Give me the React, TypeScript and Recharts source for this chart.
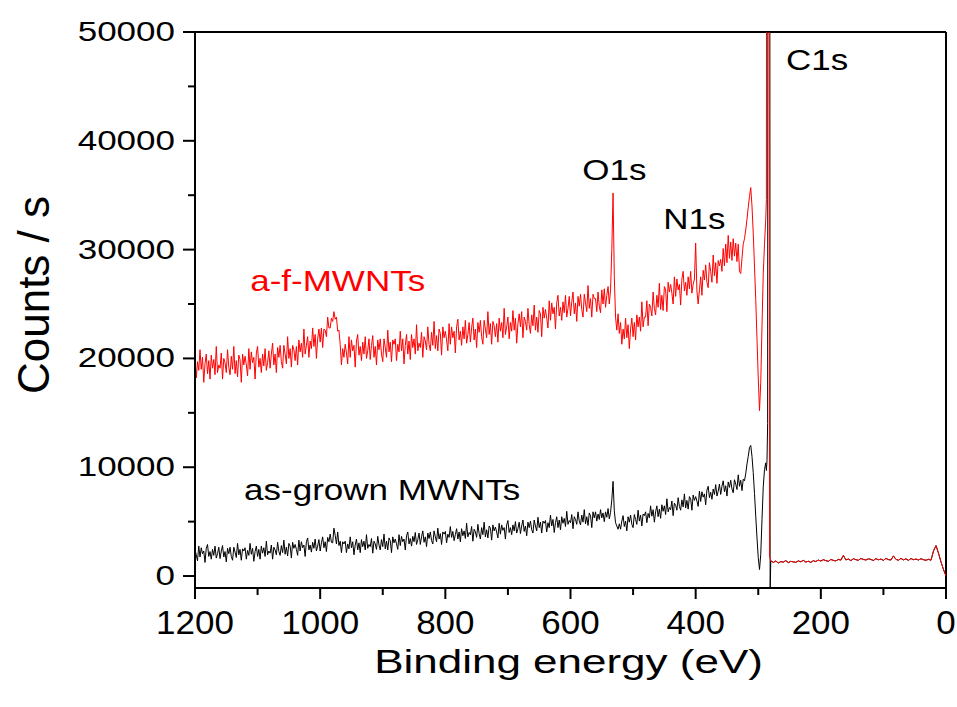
import { LineChart, Line, XAxis, YAxis, ReferenceLine, ReferenceDot } from "recharts";

// binding energy grid (eV), 2 eV steps above C1s
const mainEnergy = [
  1200, 1198, 1196, 1194, 1192, 1190, 1188, 1186, 1184, 1182, 1180, 1178, 1176, 1174, 1172, 1170, 1168, 1166, 1164, 1162,
  1160, 1158, 1156, 1154, 1152, 1150, 1148, 1146, 1144, 1142, 1140, 1138, 1136, 1134, 1132, 1130, 1128, 1126, 1124, 1122,
  1120, 1118, 1116, 1114, 1112, 1110, 1108, 1106, 1104, 1102, 1100, 1098, 1096, 1094, 1092, 1090, 1088, 1086, 1084, 1082,
  1080, 1078, 1076, 1074, 1072, 1070, 1068, 1066, 1064, 1062, 1060, 1058, 1056, 1054, 1052, 1050, 1048, 1046, 1044, 1042,
  1040, 1038, 1036, 1034, 1032, 1030, 1028, 1026, 1024, 1022, 1020, 1018, 1016, 1014, 1012, 1010, 1008, 1006, 1004, 1002,
  1000, 998, 996, 994, 992, 990, 988, 986, 984, 982, 980, 978, 976, 974, 972, 970, 968, 966, 964, 962,
  960, 958, 956, 954, 952, 950, 948, 946, 944, 942, 940, 938, 936, 934, 932, 930, 928, 926, 924, 922,
  920, 918, 916, 914, 912, 910, 908, 906, 904, 902, 900, 898, 896, 894, 892, 890, 888, 886, 884, 882,
  880, 878, 876, 874, 872, 870, 868, 866, 864, 862, 860, 858, 856, 854, 852, 850, 848, 846, 844, 842,
  840, 838, 836, 834, 832, 830, 828, 826, 824, 822, 820, 818, 816, 814, 812, 810, 808, 806, 804, 802,
  800, 798, 796, 794, 792, 790, 788, 786, 784, 782, 780, 778, 776, 774, 772, 770, 768, 766, 764, 762,
  760, 758, 756, 754, 752, 750, 748, 746, 744, 742, 740, 738, 736, 734, 732, 730, 728, 726, 724, 722,
  720, 718, 716, 714, 712, 710, 708, 706, 704, 702, 700, 698, 696, 694, 692, 690, 688, 686, 684, 682,
  680, 678, 676, 674, 672, 670, 668, 666, 664, 662, 660, 658, 656, 654, 652, 650, 648, 646, 644, 642,
  640, 638, 636, 634, 632, 630, 628, 626, 624, 622, 620, 618, 616, 614, 612, 610, 608, 606, 604, 602,
  600, 598, 596, 594, 592, 590, 588, 586, 584, 582, 580, 578, 576, 574, 572, 570, 568, 566, 564, 562,
  560, 558, 556, 554, 552, 550, 548, 546, 544, 542, 540, 538, 536, 534, 532, 530, 528, 526, 524, 522,
  520, 518, 516, 514, 512, 510, 508, 506, 504, 502, 500, 498, 496, 494, 492, 490, 488, 486, 484, 482,
  480, 478, 476, 474, 472, 470, 468, 466, 464, 462, 460, 458, 456, 454, 452, 450, 448, 446, 444, 442,
  440, 438, 436, 434, 432, 430, 428, 426, 424, 422, 420, 418, 416, 414, 412, 410, 408, 406, 404, 402,
  400, 398, 396, 394, 392, 390, 388, 386, 384, 382, 380, 378, 376, 374, 372, 370, 368, 366, 364, 362,
  360, 358, 356, 354, 352, 350, 348, 346, 344, 342, 340, 338, 336, 334, 332, 330, 328, 326, 324, 322,
];

// finer steps around the C1s region
const c1sEnergy = [
  320, 318, 316, 314, 312, 310, 308, 306, 304, 302,
  300, 298, 296, 294, 292, 290, 288, 287, 286, 285,
  284, 283, 282, 281,
];

const lowEnergy = [
  280, 276, 272, 268, 264, 260, 256, 252, 248, 244,
  240, 236, 232, 228, 224, 220, 216, 212, 208, 204,
  200, 196, 192, 188, 184, 180, 176, 172, 168, 164,
  160, 156, 152, 148, 144, 140, 136, 132, 128, 124,
  120, 116, 112, 108, 104, 100, 96, 92, 88, 84,
  80, 76, 72, 68, 64, 60, 56, 52, 48, 44,
  40, 36, 32, 28, 24, 20, 16, 12, 8, 4,
  0,
];

// counts/s, a-f-MWNTs (red)
const afMain = [
  20200, 18200, 19700, 18900, 20800, 19000, 20100, 17800, 19500, 20400, 18600, 19800, 18100, 20300, 19100, 19900, 18500, 21100, 18700, 19400,
  19100, 20500, 18100, 20000, 19600, 18700, 20800, 19200, 18500, 20200, 19000, 21100, 18600, 19800, 18300, 20300, 19900, 17800, 20400, 19400,
  20200, 19400, 18400, 20900, 19000, 20600, 19600, 20100, 18100, 20500, 21100, 19200, 20000, 18700, 20400, 19300, 20900, 18900, 19600, 20700,
  19100, 20400, 21400, 19400, 20400, 18700, 21000, 20100, 21200, 19700, 19100, 21200, 20400, 19500, 22000, 20000, 20900, 19200, 21200, 20800,
  19800, 21100, 19400, 21700, 20600, 21400, 20100, 22700, 20400, 21200, 22000, 20100, 21600, 20900, 22800, 21100, 22200, 20000, 21800, 22700,
  21500, 22800, 21000, 22700, 22600, 22000, 23800, 22800, 22800, 23700, 23400, 24300, 23600, 23800, 22500, 22600, 21300, 19400, 20900, 20100,
  21300, 20500, 19500, 22000, 20100, 21700, 20700, 21200, 19200, 21600, 22200, 20300, 21100, 19800, 21500, 20400, 22000, 20000, 20700, 21800,
  19900, 21200, 22100, 20100, 21100, 19400, 21700, 20800, 21800, 20400, 19700, 21800, 21000, 20100, 22600, 20600, 21500, 19700, 21700, 21300,
  21800, 19800, 21300, 20600, 22500, 20700, 21800, 19500, 21200, 22200, 20400, 21600, 19900, 22200, 21000, 21800, 20400, 23100, 20700, 21400,
  21000, 22400, 20100, 22000, 21600, 20800, 22900, 21300, 20700, 22400, 21200, 23400, 20900, 22100, 20700, 22700, 22300, 20300, 22900, 21900,
  22500, 21700, 20700, 23200, 21300, 22900, 21900, 22500, 20500, 22900, 23600, 21700, 22500, 21200, 22900, 21800, 23500, 21400, 22200, 23300,
  21500, 22800, 23700, 21700, 22700, 21000, 23300, 22400, 23500, 22000, 21300, 23500, 22700, 21900, 24300, 22200, 23200, 21300, 23400, 23000,
  22000, 23200, 21500, 23700, 22500, 23300, 21900, 24600, 22200, 22900, 23800, 21800, 23300, 22500, 24400, 22600, 23700, 21400, 23200, 24100,
  22900, 24300, 21900, 23800, 23400, 22600, 24600, 23100, 22300, 24000, 23000, 24900, 22600, 23800, 22400, 24400, 24100, 22000, 24700, 23700,
  24500, 23700, 22800, 25300, 23500, 25100, 24100, 24700, 22700, 25100, 25800, 23900, 24700, 23500, 25200, 24200, 25800, 23800, 24600, 25700,
  23900, 25200, 26100, 24100, 25100, 23400, 25700, 24800, 25900, 24500, 23800, 25900, 25100, 24300, 26700, 24600, 25500, 23800, 25900, 25500,
  25500, 24300, 26100, 24800, 24200, 26300, 25000, 26400, 24700, 25800, 26600, 25000, 26300, 30000, 35200, 27500, 23800, 22600, 24100, 22300,
  23300, 21300, 22700, 21800, 23700, 21900, 23100, 20900, 22700, 23700, 22000, 23300, 21700, 24000, 22900, 23800, 22500, 25200, 22900, 23800,
  23800, 25300, 23000, 25000, 24700, 23900, 26100, 24600, 24000, 25800, 24700, 26900, 24500, 25800, 24400, 26600, 26300, 24300, 27000, 26100,
  26800, 26000, 25000, 27500, 25700, 27300, 26300, 26800, 24900, 27300, 28000, 26200, 27000, 25800, 27500, 26400, 28000, 26000, 26800, 27300,
  30600, 26200, 25000, 26300, 27500, 25800, 28100, 27200, 28600, 27000, 26500, 28800, 28000, 27000, 29500, 27600, 28800, 26900, 29000, 28500,
  29100, 28000, 30100, 28500, 30500, 28800, 31300, 29200, 30700, 29000, 31000, 29400, 30600, 28900, 30500, 28000, 27800, 29200, 30500, 31000,
];
const afC1s = [
  31800, 32800, 33900, 34900, 35700, 34000, 31500, 28500, 25400, 21800,
  18200, 15200, 17800, 23000, 27800, 30500, 32800, 34600, 120000, 120000,
  120000, 120000, 1800, 1600,
];

// counts/s, as-grown MWNTs (black)
const agMain = [
  2400, 1950, 1400, 2750, 1750, 2600, 2050, 2300, 1250, 2550, 2900, 1800, 2250, 1550, 2450, 1900, 2750, 1650, 2050, 2650,
  1600, 2300, 2800, 1750, 2250, 1300, 2550, 2050, 2650, 1800, 1450, 2650, 2200, 1700, 3000, 1950, 2450, 1450, 2500, 2300,
  2600, 1550, 2350, 1900, 3000, 2000, 2550, 1350, 2250, 2750, 1800, 2450, 1550, 2750, 2100, 2600, 1800, 3200, 1950, 2300,
  2100, 2850, 1550, 2650, 2400, 1950, 3100, 2250, 1900, 2800, 2150, 3300, 2000, 2650, 1850, 3000, 2750, 1650, 3100, 2550,
  2900, 2450, 1900, 3300, 2300, 3150, 2600, 2850, 1800, 3150, 3500, 2400, 2850, 2200, 3100, 2550, 3400, 2300, 2750, 3350,
  2300, 3050, 3600, 2600, 3150, 2250, 3550, 3150, 3850, 3100, 3050, 4400, 3750, 2950, 4050, 2800, 3200, 2150, 3150, 2950,
  3200, 2150, 2950, 2500, 3600, 2600, 3150, 1950, 2850, 3400, 2400, 3050, 2150, 3350, 2700, 3200, 2400, 3800, 2550, 2900,
  2700, 3450, 2100, 3200, 2950, 2450, 3650, 2850, 2400, 3350, 2700, 3850, 2500, 3200, 2400, 3500, 3250, 2150, 3600, 3050,
  3400, 2950, 2450, 3800, 2800, 3650, 3150, 3400, 2400, 3700, 4050, 2950, 3450, 2750, 3650, 3150, 4000, 2900, 3350, 3950,
  2900, 3600, 4150, 3100, 3600, 2700, 3950, 3450, 4050, 3250, 2950, 4150, 3600, 3150, 4400, 3400, 3900, 2900, 4050, 3850,
  4100, 3050, 3850, 3550, 4550, 3550, 4100, 3250, 3800, 4350, 3400, 4050, 3150, 4350, 3700, 4150, 3450, 4850, 3600, 4000,
  3800, 4550, 3200, 4300, 4050, 3550, 4750, 3900, 3400, 4450, 3800, 4950, 3600, 4250, 3500, 4600, 4400, 3300, 4700, 4150,
  4500, 4050, 3500, 4850, 3850, 4700, 4200, 4450, 3400, 4700, 5100, 4000, 4450, 3800, 4700, 4150, 5000, 3950, 4350, 4950,
  3900, 4600, 5150, 4100, 4600, 3700, 4950, 4450, 5050, 4250, 3950, 5150, 4600, 4150, 5400, 4450, 4950, 3950, 5050, 4850,
  5100, 4050, 4900, 4450, 5600, 4600, 5200, 4000, 4900, 5450, 4450, 5150, 4250, 5450, 4850, 5300, 4550, 5950, 4750, 5100,
  4900, 5650, 4350, 5450, 5200, 4750, 5900, 5050, 4700, 5600, 4950, 6100, 4800, 5450, 4650, 5800, 5550, 4450, 5900, 5350,
  5900, 5050, 5700, 5200, 6100, 5350, 5800, 5000, 5900, 5400, 6200, 5250, 5850, 7000, 8700, 6000, 4900, 4600, 4300, 4800,
  4300, 5050, 5550, 4550, 5050, 4150, 5450, 4950, 5600, 4750, 4450, 5650, 5200, 4750, 6050, 5050, 5600, 4600, 5700, 5550,
  5900, 4900, 5750, 5350, 6450, 5500, 6100, 4950, 5900, 6450, 5450, 6150, 5300, 6550, 5950, 6450, 5650, 7100, 5900, 6300,
  6100, 6900, 5550, 6700, 6500, 6050, 7200, 6400, 6050, 7000, 6350, 7550, 6250, 6950, 6150, 7300, 7100, 6050, 7450, 6950,
  7300, 6900, 6400, 7800, 6850, 7750, 7250, 7550, 6550, 7900, 8250, 7200, 7700, 7050, 8000, 7500, 8400, 7350, 7800, 8450,
  7500, 8250, 8750, 7750, 8300, 7350, 8650, 8150, 8800, 8000, 7650, 8850, 8450, 7950, 9300, 8250, 8800, 7850, 8900, 8750,
];
const agC1s = [
  9400, 10300, 11000, 11800, 12000, 11000, 9500, 7600, 5500, 3500,
  1700, 600, 2000, 5200, 8200, 9800, 10400, 9700, 10600, 14000,
  120000, 120000, 120000, -1500,
];

// below C1s both spectra coincide (valence band near 17 eV)
const lowCounts = [
  1400, 1250, 1380, 1200, 1320, 1280, 1420, 1230, 1350, 1300,
  1260, 1390, 1310, 1440, 1280, 1360, 1250, 1410, 1330, 1470,
  1380, 1500, 1420, 1350, 1520, 1440, 1390, 1530, 1460, 1900,
  1480, 1560, 1420, 1590, 1500, 1450, 1610, 1530, 1470, 1580,
  1520, 1430, 1600, 1490, 1560, 1440, 1620, 1510, 1470, 1850,
  1530, 1450, 1620, 1480, 1580, 1440, 1610, 1500, 1560, 1470,
  1590, 1500, 1450, 1540, 1450, 2300, 2800, 2100, 1300, 600,
  0,
];

const xTicks = [1200, 1100, 1000, 900, 800, 700, 600, 500, 400, 300, 200, 100, 0];
const yTicks = [0, 5000, 10000, 15000, 20000, 25000, 30000, 35000, 40000, 45000, 50000];

const notes = [
  { text: "C1s", be: 206, counts: 47500, color: "#000" },
  { text: "O1s", be: 530, counts: 37400, color: "#000" },
  { text: "N1s", be: 402, counts: 32900, color: "#000" },
  { text: "a-f-MWNTs", be: 972, counts: 27200, color: "#ff0000" },
  { text: "as-grown MWNTs", be: 901, counts: 8000, color: "#000" },
];

const FONT = "Arial, 'Liberation Sans', sans-serif";

const energy = [...mainEnergy, ...c1sEnergy, ...lowEnergy];
const afMwnts = [...afMain, ...afC1s, ...lowCounts];
const asGrown = [...agMain, ...agC1s, ...lowCounts];
const rows = energy.map((e, i) => ({ e, af: afMwnts[i], ag: asGrown[i] }));

function XTick(props: any) {
  const { x, y, payload } = props;
  const v = payload.value as number;
  const major = v % 200 === 0;
  const ay = y - 11;
  return (
    <g>
      <line x1={x} x2={x} y1={ay} y2={ay + (major ? 11 : 7)} stroke="#000" strokeWidth={2} />
      {major && (
        <text
          transform={`translate(${x},${y + 35}) scale(1,0.95)`}
          textAnchor="middle"
          fontSize={35}
          fontFamily={FONT}
          fill="#000"
        >
          {v}
        </text>
      )}
    </g>
  );
}

function YTick(props: any) {
  const { x, y, payload } = props;
  const v = payload.value as number;
  const major = v % 10000 === 0;
  const ax = x + 20;
  return (
    <g>
      <line x1={ax - (major ? 12 : 7)} x2={ax} y1={y} y2={y} stroke="#000" strokeWidth={2} />
      {major && (
        <text
          transform={`translate(${x},${y + 9}) scale(1,0.8)`}
          textAnchor="end"
          fontSize={35}
          fontFamily={FONT}
          fill="#000"
        >
          {v}
        </text>
      )}
    </g>
  );
}

export default function App() {
  return (
    <div style={{ position: "absolute", left: 0, top: 0, width: 957, height: 707, background: "#fff" }}>
      <LineChart width={957} height={707} data={rows} margin={{ top: 32, right: 11, bottom: 69, left: 0 }}>
        <XAxis
          dataKey="e"
          type="number"
          domain={[0, 1200]}
          reversed
          ticks={xTicks}
          interval={0}
          height={50}
          tickSize={11}
          tickMargin={0}
          tickLine={false}
          tick={<XTick />}
          axisLine={{ stroke: "#000", strokeWidth: 2 }}
          allowDataOverflow
        />
        <YAxis
          type="number"
          domain={[-1100, 50000]}
          ticks={yTicks}
          interval={0}
          width={195}
          tickSize={12}
          tickMargin={8}
          tickLine={false}
          tick={<YTick />}
          axisLine={{ stroke: "#000", strokeWidth: 2 }}
          allowDataOverflow
        />
        <ReferenceLine y={50000} stroke="#000" strokeWidth={2} />
        <ReferenceLine x={0} stroke="#000" strokeWidth={2} />
        <Line dataKey="ag" stroke="#000" strokeWidth={1} dot={false} type="linear" isAnimationActive={false} />
        <Line dataKey="af" stroke="#ff0000" strokeWidth={1} dot={false} type="linear" isAnimationActive={false} />
        {notes.map((n) => (
          <ReferenceDot
            key={n.text}
            x={n.be}
            y={n.counts}
            r={0}
            shape={(p: any) => (
              <text
                transform={`translate(${p.cx},${p.cy + 10.6}) scale(1,0.85)`}
                textAnchor="middle"
                fontSize={35}
                fontFamily={FONT}
                fill={n.color}
              >
                {n.text}
              </text>
            )}
          />
        ))}
      </LineChart>
      <svg width={957} height={707} style={{ position: "absolute", left: 0, top: 0, pointerEvents: "none" }}>
        <text
          transform="translate(568.5,673) scale(1,0.76)"
          textAnchor="middle"
          fontSize={44}
          fontFamily={FONT}
          fill="#000"
        >
          Binding energy (eV)
        </text>
        <text transform="translate(49,295) rotate(-90)" textAnchor="middle" fontSize={44} fontFamily={FONT} fill="#000">
          Counts / s
        </text>
      </svg>
    </div>
  );
}
